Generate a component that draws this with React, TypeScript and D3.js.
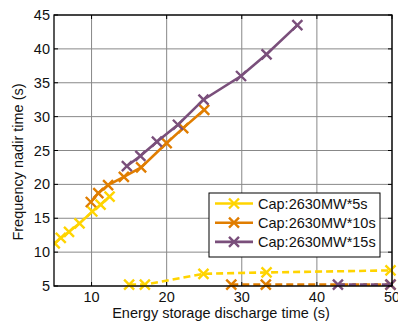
import React from "react";
import * as d3 from "d3";

const xTicks = [10, 20, 30, 40, 50];
const yTicks = [5, 10, 15, 20, 25, 30, 35, 40, 45];

const seriesNames = ["Cap:2630MW*5s", "Cap:2630MW*10s", "Cap:2630MW*15s"];
const seriesColors = ["#FFD400", "#E07D00", "#7A4F7B"];

// solid branches
const yellowSolid: [number, number][] = [
  [5.1, 11.3], [5.9, 12.1], [7.0, 13.0], [8.4, 14.25], [10.1, 16.0], [11.2, 17.0], [12.4, 18.2],
];
const orangeSolid: [number, number][] = [
  [9.9, 17.4], [10.9, 18.7], [12.2, 19.9], [14.3, 21.1], [16.6, 22.5], [20.0, 26.1], [22.2, 28.3], [25.0, 31.0],
];
const purpleSolid: [number, number][] = [
  [14.7, 22.7], [16.5, 24.2], [18.7, 26.3], [21.5, 28.8], [24.9, 32.5], [29.9, 36.0], [33.3, 39.2], [37.4, 43.5],
];
// dashed branches
const yellowDashed: [number, number][] = [
  [15.0, 5.2], [17.1, 5.2], [24.9, 6.8], [33.3, 7.0], [49.8, 7.3],
];
const orangeDashed: [number, number][] = [
  [28.6, 5.2], [33.2, 5.2], [49.8, 5.2],
];
const purpleDashed: [number, number][] = [
  [42.8, 5.2], [49.8, 5.2],
];

const W = 398, H = 324;
const m = { left: 54, right: 6, top: 15, bottom: 38 };

export default function App() {
  const x = d3.scaleLinear().domain([5, 50]).range([m.left, W - m.right]);
  const y = d3.scaleLinear().domain([5, 45]).range([H - m.bottom, m.top]);
  const line = d3.line<[number, number]>().x(d => x(d[0])).y(d => y(d[1]));
  const font = "'Liberation Sans', Arial, sans-serif";
  const fs = 14.5;
  const ms = 5;

  const cross = (px: number, py: number, color: string, key: string) => (
    <path key={key} d={`M${px - ms},${py - ms}L${px + ms},${py + ms}M${px - ms},${py + ms}L${px + ms},${py - ms}`}
      stroke={color} strokeWidth={2.4} fill="none" />
  );

  const series = [
    { data: orangeDashed, color: seriesColors[1], dash: "7,4" },
    { data: purpleDashed, color: seriesColors[2], dash: "7,4" },
    { data: yellowDashed, color: seriesColors[0], dash: "7,4" },
    { data: yellowSolid, color: seriesColors[0], dash: null },
    { data: orangeSolid, color: seriesColors[1], dash: null },
    { data: purpleSolid, color: seriesColors[2], dash: null },
  ];

  const x0 = m.left, x1 = W - m.right, y0 = m.top, y1 = H - m.bottom;

  return (
    <svg width={W} height={H} style={{ position: "absolute", left: 0, top: 0, background: "#fff" }}>
      <defs>
        <clipPath id="plot"><rect x={x0} y={y0 - 6} width={x1 - x0 + 6} height={y1 - y0 + 12} /></clipPath>
      </defs>
      {/* grid */}
      {xTicks.map(t => (
        <line key={"gx" + t} x1={x(t)} x2={x(t)} y1={y0} y2={y1} stroke="#888" strokeWidth={1} />
      ))}
      {yTicks.map(t => (
        <line key={"gy" + t} x1={x0} x2={x1} y1={y(t)} y2={y(t)} stroke="#888" strokeWidth={1} />
      ))}
      {/* data */}
      <g clipPath="url(#plot)">
        {series.map((s, i) => (
          <g key={"s" + i}>
            <path d={line(s.data) || ""} fill="none" stroke={s.color} strokeWidth={2.6}
              strokeDasharray={s.dash || undefined} />
            {s.data.map((d, j) => cross(x(d[0]), y(d[1]), s.color, `m${i}-${j}`))}
          </g>
        ))}
      </g>
      {/* axes box */}
      <rect x={x0} y={y0} width={x1 - x0} height={y1 - y0} fill="none" stroke="#000" strokeWidth={1.3} />
      {xTicks.map(t => (
        <g key={"xt" + t}>
          <line x1={x(t)} x2={x(t)} y1={y1} y2={y1 - 4} stroke="#000" />
          <line x1={x(t)} x2={x(t)} y1={y0} y2={y0 + 4} stroke="#000" />
          <text x={x(t)} y={y1 + 16} textAnchor="middle" fontFamily={font} fontSize={fs} fill="#111">{t}</text>
        </g>
      ))}
      {yTicks.map(t => (
        <g key={"yt" + t}>
          <line x1={x0} x2={x0 + 4} y1={y(t)} y2={y(t)} stroke="#000" />
          <line x1={x1} x2={x1 - 4} y1={y(t)} y2={y(t)} stroke="#000" />
          <text x={x0 - 4} y={y(t) + 5} textAnchor="end" fontFamily={font} fontSize={fs} fill="#111">{t}</text>
        </g>
      ))}
      <text x={221} y={318} textAnchor="middle" fontFamily={font} fontSize={fs} fill="#111">
        Energy storage discharge time (s)
      </text>
      <text transform={`translate(23,162) rotate(-90)`} textAnchor="middle" fontFamily={font} fontSize={fs} fill="#111">
        Frequency nadir time (s)
      </text>
      {/* legend */}
      <g>
        <rect x={209} y={193} width={171} height={64} fill="#fff" stroke="#000" strokeWidth={1} />
        {seriesNames.map((n, i) => {
          const ly = 203.5 + i * 19.2;
          return (
            <g key={"lg" + i}>
              <line x1={215} x2={253} y1={ly} y2={ly} stroke={seriesColors[i]} strokeWidth={2.6} />
              {cross(234, ly, seriesColors[i], "lm" + i)}
              <text x={258} y={ly + 5} fontFamily={font} fontSize={fs} fill="#111">{n}</text>
            </g>
          );
        })}
      </g>
    </svg>
  );
}
